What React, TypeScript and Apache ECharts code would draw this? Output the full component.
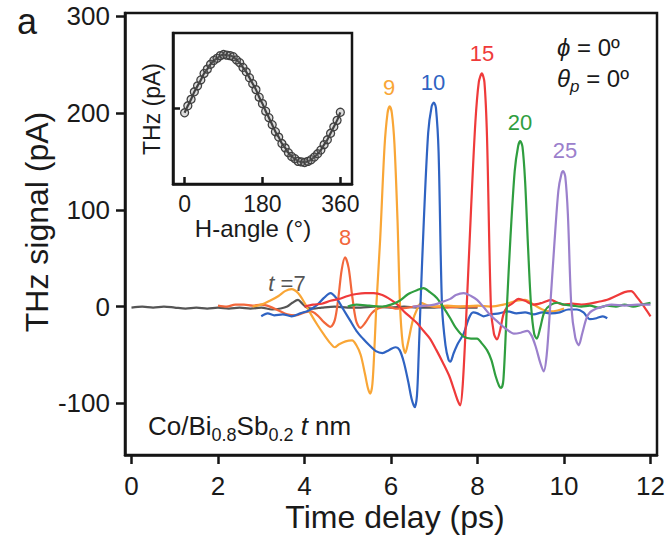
import React, { useEffect, useRef } from "react";
import * as echarts from "echarts";

const FONT = "'Liberation Sans', Arial, Helvetica, sans-serif";

const xTicks = [0, 2, 4, 6, 8, 10, 12];
const yTicks = [-100, 0, 100, 200, 300];
const insetTicks = [0, 180, 360];

// t = 7 nm
const t7: [number, number][] = [[0,-1],[0.25,0],[0.5,-1],[0.75,0],[1,-1],[1.25,-2],[1.5,-1],[1.75,-2],[2,-1],[2.25,-2],[2.5,-1],[2.75,-2],[3,-1],[3.25,-3],[3.45,-2],[3.6,0],[3.72,4],[3.85,7],[3.95,3],[4.05,-1],[4.2,-2],[4.4,-1],[4.7,0],[5,-1],[5.3,-1],[5.6,0],[6,-1],[6.3,0],[6.6,-1],[7,-1],[7.3,0],[7.6,-1],[8,-1]];
// t = 8 nm
const t8: [number, number][] = [[2,1],[2.2,0],[2.4,2],[2.6,2],[2.8,1],[3,2],[3.2,0],[3.4,-4],[3.6,-8],[3.8,-9],[4,-6],[4.15,-5],[4.3,-9],[4.45,-16],[4.6,-21],[4.7,-14],[4.78,8],[4.86,38],[4.94,51],[5.02,40],[5.1,12],[5.19,-14],[5.29,-22],[5.4,-17],[5.55,-7],[5.7,-2],[5.9,0],[6.1,-2],[6.4,-1],[6.7,1],[7,0],[7.3,-1],[7.6,0],[8,0]];
// t = 9 nm
const t9: [number, number][] = [[2.8,0],[3,2],[3.2,6],[3.4,11],[3.55,16],[3.7,18],[3.85,14],[4,4],[4.15,-8],[4.3,-19],[4.45,-29],[4.6,-38],[4.7,-42],[4.8,-39],[4.95,-36],[5.1,-35],[5.2,-40],[5.3,-50],[5.4,-70],[5.47,-85],[5.52,-90],[5.57,-80],[5.62,-40],[5.66,0],[5.75,70],[5.85,165],[5.92,200],[5.97,207],[6.02,200],[6.08,168],[6.15,90],[6.21,0],[6.27,-38],[6.33,-48],[6.4,-36],[6.5,-15],[6.6,-3],[6.7,4],[6.8,2],[7,0],[7.3,1],[7.6,0],[8,1],[8.3,0],[8.6,2],[8.9,6],[9.1,7],[9.3,2],[9.5,-3],[9.7,-5],[9.85,-4],[10,-2]];
// t = 10 nm
const t10: [number, number][] = [[3,-10],[3.15,-7],[3.3,-9],[3.5,-8],[3.7,-10],[3.9,-7],[4.1,-4],[4.3,2],[4.45,9],[4.6,14],[4.75,8],[4.9,-3],[5.05,-14],[5.2,-25],[5.35,-33],[5.5,-40],[5.65,-46],[5.8,-48],[5.95,-45],[6.1,-42],[6.2,-45],[6.3,-58],[6.4,-78],[6.48,-96],[6.55,-104],[6.6,-92],[6.64,-50],[6.68,0],[6.76,90],[6.86,180],[6.94,207],[6.99,211],[7.04,205],[7.1,160],[7.18,0],[7.26,-40],[7.33,-55],[7.37,-57],[7.45,-48],[7.55,-38],[7.68,-28],[7.8,-12],[7.9,-6],[8,-7],[8.14,-10],[8.3,-8],[8.5,-7],[8.7,-5],[8.9,-7],[9.1,-6],[9.3,-8],[9.5,-6],[9.7,-7],[9.9,-6],[10.1,-3],[10.3,-3],[10.45,-6],[10.6,-13],[10.75,-12],[10.9,-10],[11,-12]];
// t = 15 nm
const t15: [number, number][] = [[4,0],[4.2,2],[4.4,3],[4.6,6],[4.8,8],[5,11],[5.2,13],[5.4,14],[5.6,14],[5.8,12],[6,7],[6.15,2],[6.3,-5],[6.45,-11],[6.6,-17],[6.75,-25],[6.9,-33],[7.05,-45],[7.2,-58],[7.35,-72],[7.45,-85],[7.55,-98],[7.6,-102],[7.66,-80],[7.75,0],[7.85,100],[7.95,190],[8.03,232],[8.1,241],[8.16,232],[8.22,175],[8.31,0],[8.38,-28],[8.45,-34],[8.52,-25],[8.6,-8],[8.69,0],[8.8,3],[8.95,8],[9.1,6],[9.3,2],[9.5,4],[9.7,7],[9.85,4],[10,2],[10.2,3],[10.4,2],[10.6,3],[10.8,5],[11,7],[11.2,11],[11.4,15],[11.55,16],[11.7,9],[11.85,0],[12,-10]];
// t = 20 nm
const t20: [number, number][] = [[5,0],[5.2,2],[5.5,1],[5.8,0],[6,2],[6.2,6],[6.4,13],[6.6,17],[6.75,19],[6.9,15],[7.06,9],[7.2,0],[7.37,-12],[7.5,-22],[7.68,-31],[7.85,-33],[7.99,-33],[8.1,-38],[8.22,-45],[8.32,-55],[8.42,-72],[8.5,-82],[8.55,-84],[8.6,-75],[8.68,0],[8.76,70],[8.86,140],[8.94,166],[8.99,171],[9.04,165],[9.1,130],[9.17,60],[9.24,0],[9.31,-28],[9.37,-33],[9.45,-22],[9.55,-5],[9.7,2],[9.85,4],[10,2],[10.2,1],[10.4,0],[10.6,1],[10.8,-1],[11,1],[11.2,0],[11.4,2],[11.6,0],[11.8,2],[12,4]];
// t = 25 nm
const t25: [number, number][] = [[6.5,0],[6.8,1],[7,2],[7.2,5],[7.37,8],[7.5,12],[7.68,14],[7.85,11],[7.99,7],[8.15,-1],[8.3,-9],[8.45,-15],[8.6,-21],[8.75,-26],[8.84,-28],[9,-27],[9.15,-25],[9.25,-30],[9.35,-42],[9.45,-58],[9.53,-67],[9.6,-50],[9.68,0],[9.77,60],[9.87,120],[9.94,137],[9.98,140],[10.03,134],[10.09,95],[10.17,0],[10.26,-32],[10.34,-40],[10.42,-28],[10.52,-12],[10.6,-6],[10.75,-2],[10.9,0],[11.1,2],[11.4,1],[11.7,2],[12,2]];

const insetAngles = [0,7.5,15,22.5,30,37.5,45,52.5,60,67.5,75,82.5,90,97.5,105,112.5,120,127.5,135,142.5,150,157.5,165,172.5,180,187.5,195,202.5,210,217.5,225,232.5,240,247.5,255,262.5,270,277.5,285,292.5,300,307.5,315,322.5,330,337.5,345,352.5,360];
const insetValues = [-0.08,0.05,0.17,0.31,0.42,0.53,0.65,0.73,0.82,0.89,0.93,0.98,1.0,0.99,0.98,0.96,0.9,0.85,0.76,0.68,0.57,0.46,0.35,0.21,0.09,-0.05,-0.17,-0.3,-0.43,-0.53,-0.65,-0.73,-0.82,-0.89,-0.93,-0.98,-0.99,-1.0,-0.98,-0.95,-0.9,-0.84,-0.77,-0.67,-0.58,-0.46,-0.34,-0.22,-0.07];

const seriesNames = ["7", "8", "9", "10", "15", "20", "25"];
const seriesData = [t7, t8, t9, t10, t15, t20, t25];
const seriesColors = ["#555555", "#f2673b", "#f9a636", "#2f63c2", "#ef3a3a", "#2f9e3f", "#9b80cc"];

export default function App() {
  const ref = useRef<HTMLDivElement>(null);
  useEffect(() => {
    if (!ref.current) return;
    const chart = echarts.init(ref.current, undefined, { renderer: "svg" });
    const axisCol = "#151515";
    const txt = (x: number, y: number, text: string, size: number, color: string, extra: any = {}) => ({
      type: "text",
      x,
      y,
      z: 100,
      ...extra,
      style: {
        text,
        fontSize: size,
        fontFamily: FONT,
        fill: color,
        align: "center",
        verticalAlign: "middle",
        textAlign: "center",
        textVerticalAlign: "middle",
        ...(extra.style || {}),
      },
    });
    const option: any = {
      animation: false,
      backgroundColor: "#ffffff",
      grid: [
        { left: 125, top: 13, width: 532, height: 442, show: true, borderColor: axisCol, borderWidth: 2.5, backgroundColor: "transparent" },
        { left: 173, top: 33, width: 179, height: 151, show: true, borderColor: axisCol, borderWidth: 2.5, backgroundColor: "#ffffff", z: 10 },
      ],
      xAxis: [
        {
          type: "value", gridIndex: 0, min: -0.15, max: 12.15,
          axisLine: { show: true, onZero: false, lineStyle: { color: axisCol, width: 2.5 } },
          axisTick: { show: true, inside: false, length: 9, customValues: xTicks, lineStyle: { color: axisCol, width: 2.5 } },
          axisLabel: { customValues: xTicks, fontSize: 26, fontFamily: FONT, color: "#1a1a1a", margin: 18 },
          splitLine: { show: false },
        },
        {
          type: "value", gridIndex: 1, min: -26.8, max: 387,
          axisLine: { show: true, onZero: false, lineStyle: { color: axisCol, width: 2.5 } },
          axisTick: { show: true, inside: true, length: 7, customValues: insetTicks, lineStyle: { color: axisCol, width: 2.5 } },
          axisLabel: { customValues: insetTicks, fontSize: 23, fontFamily: FONT, color: "#1a1a1a", margin: 8 },
          splitLine: { show: false },
          z: 10,
        },
      ],
      yAxis: [
        {
          type: "value", gridIndex: 0, min: -153.4, max: 303.5,
          axisLine: { show: true, onZero: false, lineStyle: { color: axisCol, width: 2.5 } },
          axisTick: { show: true, inside: false, length: 9, customValues: yTicks, lineStyle: { color: axisCol, width: 2.5 } },
          axisLabel: { customValues: yTicks, fontSize: 26, fontFamily: FONT, color: "#1a1a1a", margin: 15 },
          splitLine: { show: false },
        },
        {
          type: "value", gridIndex: 1, min: -1.4, max: 1.4,
          axisLine: { show: true, onZero: false, lineStyle: { color: axisCol, width: 2.5 } },
          axisTick: { show: true, inside: true, length: 7, customValues: [0], lineStyle: { color: axisCol, width: 2.5 } },
          axisLabel: { show: false },
          splitLine: { show: false },
          z: 10,
        },
      ],
      series: [
        ...seriesData.map((d, i) => ({
          type: "line",
          name: seriesNames[i],
          xAxisIndex: 0,
          yAxisIndex: 0,
          data: d,
          smooth: 0.3,
          showSymbol: false,
          symbol: "none",
          lineStyle: { color: seriesColors[i], width: 2.2 },
          z: 2 + i,
        })),
        {
          type: "line",
          name: "inset",
          xAxisIndex: 1,
          yAxisIndex: 1,
          data: insetAngles.map((a, i) => [a, insetValues[i]]),
          smooth: 0.3,
          symbol: "circle",
          symbolSize: 8,
          itemStyle: { color: "rgba(120,120,120,0.25)", borderColor: "#404040", borderWidth: 1.3 },
          lineStyle: { color: "#303030", width: 2.2 },
          z: 20,
        },
      ],
      graphic: [
        txt(27, 21, "a", 36, "#1a1a1a"),
        txt(395, 517, "Time delay (ps)", 32, "#1a1a1a"),
        txt(37, 222, "THz signal (pA)", 32, "#1a1a1a", { rotation: Math.PI / 2 }),
        txt(253, 228, "H-angle (°)", 24, "#1a1a1a"),
        txt(152, 109, "THz (pA)", 23, "#1a1a1a", { rotation: Math.PI / 2 }),
        txt(389, 87, "9", 22, seriesColors[2]),
        txt(433, 82, "10", 22, seriesColors[3]),
        txt(482, 53, "15", 22, seriesColors[4]),
        txt(520, 122, "20", 22, seriesColors[5]),
        txt(565, 150, "25", 22, seriesColors[6]),
        txt(345, 237, "8", 22, seriesColors[1]),
        txt(287, 283, "", 22, seriesColors[0], {
          style: {
            text: "{i|t} {n|=7}",
            rich: {
              i: { fontStyle: "italic", fontSize: 22, fontFamily: FONT, fill: seriesColors[0] },
              n: { fontSize: 22, fontFamily: FONT, fill: seriesColors[0] },
            },
          },
        }),
        {
          type: "text", x: 557, y: 47, z: 100,
          style: {
            text: "{i|ϕ}{n| = 0º}",
            align: "left", verticalAlign: "middle", textAlign: "left", textVerticalAlign: "middle",
            fill: "#1a1a1a",
            rich: {
              i: { fontStyle: "italic", fontSize: 24, fontFamily: FONT, fill: "#1a1a1a" },
              n: { fontSize: 24, fontFamily: FONT, fill: "#1a1a1a" },
            },
          },
        },
        {
          type: "text", x: 557, y: 78, z: 100,
          style: {
            text: "{i|θ}{s|p}{n| = 0º}",
            align: "left", verticalAlign: "middle", textAlign: "left", textVerticalAlign: "middle",
            fill: "#1a1a1a",
            rich: {
              i: { fontStyle: "italic", fontSize: 24, fontFamily: FONT, fill: "#1a1a1a", lineHeight: 34, verticalAlign: "middle" },
              s: { fontStyle: "italic", fontSize: 17, fontFamily: FONT, fill: "#1a1a1a", lineHeight: 17, verticalAlign: "bottom" },
              n: { fontSize: 24, fontFamily: FONT, fill: "#1a1a1a", lineHeight: 34, verticalAlign: "middle" },
            },
          },
        },
        {
          type: "text", x: 148, y: 426, z: 100,
          style: {
            text: "{n|Co/Bi}{s|0.8}{n|Sb}{s|0.2}{i| t}{n| nm}",
            align: "left", verticalAlign: "middle", textAlign: "left", textVerticalAlign: "middle",
            fill: "#1a1a1a",
            rich: {
              n: { fontSize: 26, fontFamily: FONT, fill: "#1a1a1a", lineHeight: 36, verticalAlign: "middle" },
              s: { fontSize: 18, fontFamily: FONT, fill: "#1a1a1a", lineHeight: 18, verticalAlign: "bottom" },
              i: { fontStyle: "italic", fontSize: 26, fontFamily: FONT, fill: "#1a1a1a", lineHeight: 36, verticalAlign: "middle" },
            },
          },
        },
      ],
    };
    chart.setOption(option);
    return () => chart.dispose();
  }, []);
  return (
    <div
      ref={ref}
      style={{ position: "fixed", left: 0, top: 0, width: 669, height: 543, background: "#ffffff" }}
    />
  );
}
